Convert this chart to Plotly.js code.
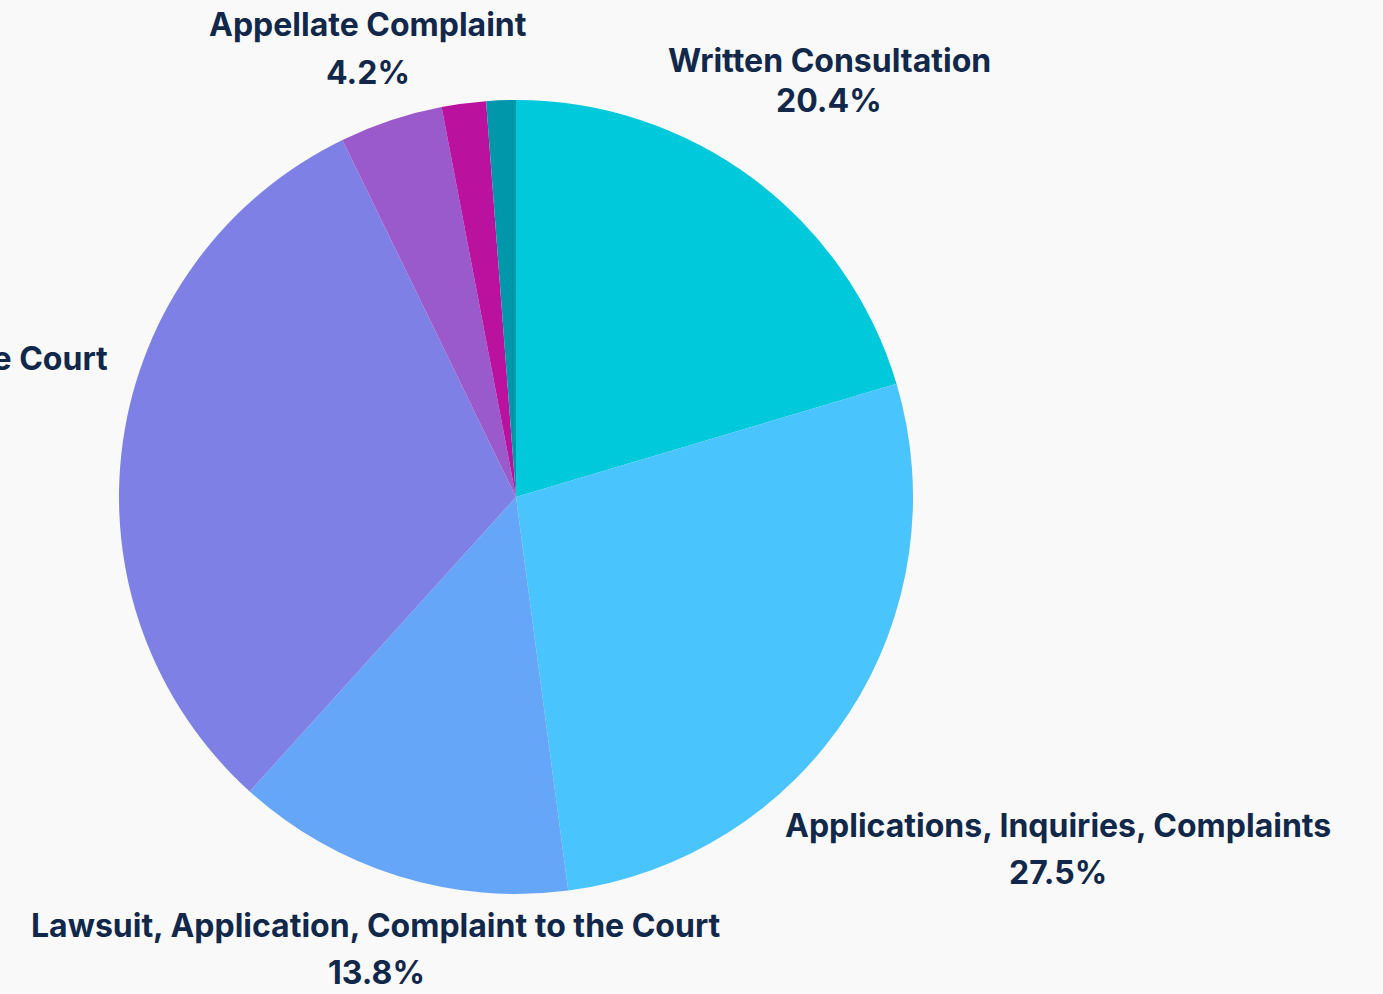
<!DOCTYPE html>
<html>
<head>
<meta charset="utf-8">
<script src="https://cdn.plot.ly/plotly-3.0.1.min.js"></script>
<style>
html,body{margin:0;padding:0;background:#F9F9F9;}
#chart{width:1383px;height:994px;}
</style>
</head>
<body>
<div id="chart"></div>
<script>
// ---- data ----
const categories = [
  "Written Consultation",
  "Applications, Inquiries, Complaints",
  "Lawsuit, Application, Complaint to the Court",
  "Cassation Complaint to the Supreme Court",
  "Appellate Complaint",
  "Other Complaint",
  "Other"
];
const shares = [20.4, 27.5, 13.8, 31.1, 4.2, 1.8, 1.2];

// ---- styles / label layout (pixel positions of label lines) ----
const sliceColors = ["#00C9DC", "#49C4FD", "#66A6F8", "#7E80E6", "#9A5ACB", "#BA119E", "#0097AA"];
// [x, nameY, percentY, xanchor] ; null = no label
const labelLayout = [
  [829, 60.5, 100, "center"],
  [1058, 825, 872, "center"],
  [376, 925, 973, "center"],
  [110, 358, null, "right"],
  [367.5, 24.5, 72, "center"],
  null,
  null
];

const W = 1383, H = 994, MT = 100, MB = 100;
const px2x = px => px / W;
const px2y = py => 1 - (py - MT) / (H - MT - MB);

const total = shares.reduce((a, b) => a + b, 0);
const fmtPct = v => {
  let t = (v / total * 100).toPrecision(3);
  if (t.indexOf('.') !== -1) t = t.replace(/[.]?0+$/, '');
  return t + '%';
};

const labelFont = {family: "Inter, 'Open Sans', sans-serif", size: 32, color: "#11284A", weight: 700};
const annotations = [];
categories.forEach((c, i) => {
  const L = labelLayout[i];
  if (!L) return;
  const [x, ny, py, anchor] = L;
  if (py === null) {
    annotations.push({
      xref: "paper", yref: "paper", x: px2x(x), y: px2y(ny + 21),
      xanchor: anchor, yanchor: "middle", align: "center",
      text: c + "<br>" + fmtPct(shares[i]), showarrow: false, font: labelFont
    });
  } else {
    annotations.push({
      xref: "paper", yref: "paper", x: px2x(x), y: px2y(ny),
      xanchor: anchor, yanchor: "middle", align: "center",
      text: c, showarrow: false, font: labelFont
    });
    annotations.push({
      xref: "paper", yref: "paper", x: px2x(x), y: px2y(py),
      xanchor: anchor, yanchor: "middle", align: "center",
      text: fmtPct(shares[i]), showarrow: false, font: labelFont
    });
  }
});

const trace = {
  type: "pie",
  labels: categories,
  values: shares,
  sort: false,
  direction: "clockwise",
  rotation: 0,
  marker: {colors: sliceColors, line: {width: 0}},
  textinfo: "none",
  automargin: false,
  showlegend: false,
  domain: {x: [0, 0.7462], y: [0, 1]},
  hoverinfo: "label+percent"
};

const layout = {
  width: W,
  height: H,
  margin: {l: 0, r: 0, t: MT, b: MB},
  paper_bgcolor: "#F9F9F9",
  plot_bgcolor: "#F9F9F9",
  showlegend: false,
  annotations: annotations
};

Plotly.newPlot("chart", [trace], layout, {displayModeBar: false, staticPlot: true});
</script>
</body>
</html>
